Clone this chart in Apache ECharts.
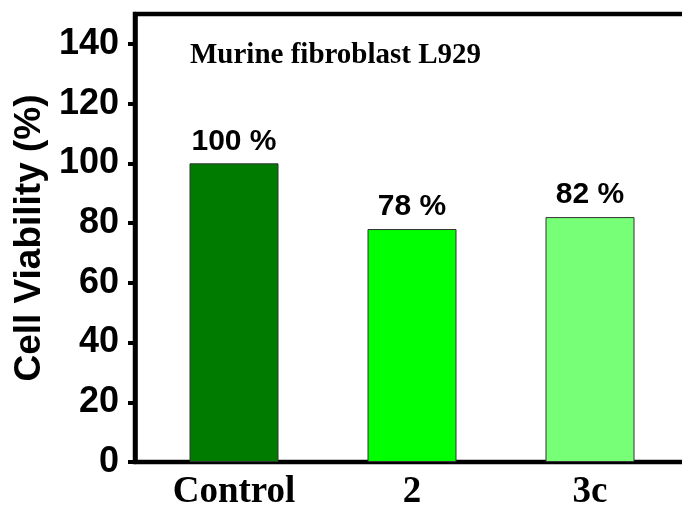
<!DOCTYPE html>
<html><head><meta charset="utf-8">
<script src="https://cdn.jsdelivr.net/npm/echarts@6/dist/echarts.min.js"></script>
<style>html,body{margin:0;padding:0;background:#fff}#c{width:682px;height:506px}</style>
</head><body><div id="c"></div>
<script>
const categories = ['Control', '2', '3c'];
const viability = [100, 78, 82];
const barColors = ['#007B00', '#00FF00', '#77FF77'];
const chartTitle = 'Murine fibroblast L929';
const yTitle = 'Cell Viability (%)';

const chart = echarts.init(document.getElementById('c'));
chart.setOption({
  animation: false,
  backgroundColor: '#fff',
  title: {
    text: chartTitle, left: 185, top: 36,
    textStyle: {fontFamily: 'Liberation Serif', fontWeight: 'bold', fontSize: 29, color: '#000'}
  },
  grid: [
    {left: 135, right: -12, top: 14, bottom: 44, show: true, borderColor: '#000', borderWidth: 4.5,
     backgroundColor: 'transparent', outerBoundsMode: 'none', containLabel: false},
    {left: 145, right: 3, top: 14, bottom: 44, outerBoundsMode: 'none', containLabel: false}
  ],
  xAxis: [
    {type: 'value', gridIndex: 0, show: false},
    {type: 'category', gridIndex: 1, data: categories,
     axisLine: {show: false}, axisTick: {show: false},
     axisLabel: {margin: 12, color: '#000', fontFamily: 'Liberation Serif', fontWeight: 'bold', fontSize: 37}}
  ],
  yAxis: [
    {type: 'value', gridIndex: 0, min: 0, max: 150, interval: 20,
     name: yTitle, nameLocation: 'middle', nameRotate: 90, nameGap: 86,
     nameTextStyle: {fontFamily: 'Liberation Sans', fontWeight: 'bold', fontSize: 37, color: '#000'},
     axisLine: {show: true, lineStyle: {color: '#000', width: 4.5}},
     axisTick: {show: true, length: 7, lineStyle: {color: '#000', width: 4}},
     splitLine: {show: false},
     axisLabel: {showMaxLabel: false, margin: 16, color: '#000', fontFamily: 'Liberation Sans', fontWeight: 'bold', fontSize: 36}},
    {type: 'value', gridIndex: 1, min: 0, max: 150, show: false, splitLine: {show: false}}
  ],
  series: [{
    type: 'bar', xAxisIndex: 1, yAxisIndex: 1,
    barWidth: 89,
    data: viability.map((v, i) => ({value: v, itemStyle: {color: barColors[i]}})),
    itemStyle: {borderColor: '#333', borderWidth: 1},
    label: {show: true, position: 'top', distance: 7, formatter: p => p.value + ' %',
            color: '#000', fontFamily: 'Liberation Sans', fontWeight: 'bold', fontSize: 30}
  }]
});
</script></body></html>
